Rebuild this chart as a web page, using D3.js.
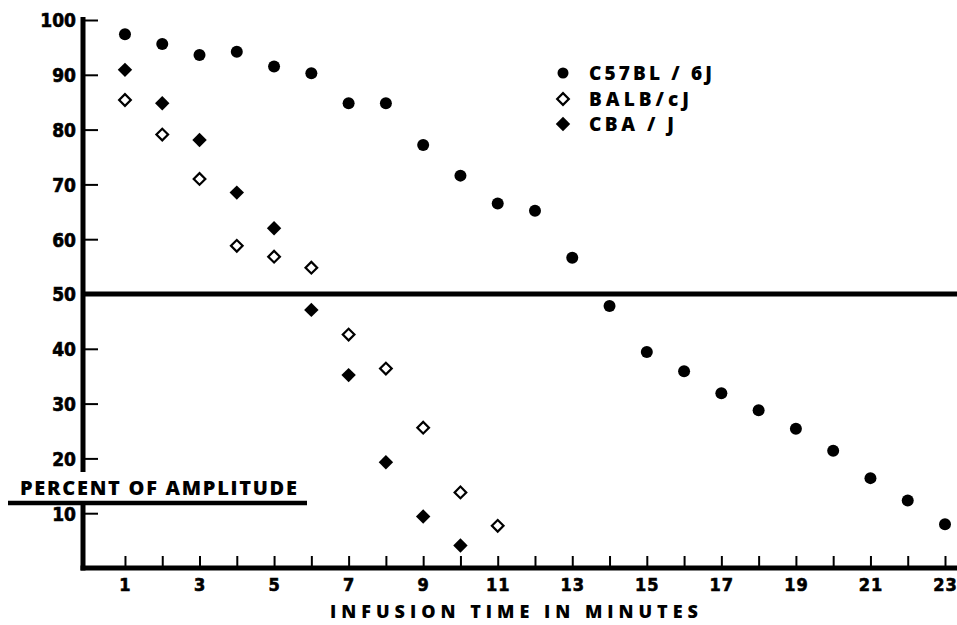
<!DOCTYPE html>
<html>
<head>
<meta charset="utf-8">
<script src="https://cdn.jsdelivr.net/npm/d3@7/dist/d3.min.js"></script>
<style>
  html, body { margin: 0; padding: 0; background: #fff; }
  svg { display: block; }
</style>
</head>
<body>
<svg id="chart" width="957" height="625"></svg>
<script>
// ---- data ----
const c57Minutes = [1, 2, 3, 4, 5, 6, 7, 8, 9, 10, 11, 12, 13, 14, 15, 16, 17, 18, 19, 20, 21, 22, 23];
const c57Values  = [97.4, 95.6, 93.6, 94.2, 91.5, 90.3, 84.8, 84.8, 77.2, 71.6, 66.5, 65.2, 56.6, 47.8, 39.4, 35.9, 31.9, 28.8, 25.4, 21.4, 16.4, 12.3, 8.0];
const balbMinutes = [1, 2, 3, 4, 5, 6, 7, 8, 9, 10, 11];
const balbValues  = [85.4, 79.1, 71.0, 58.8, 56.8, 54.8, 42.6, 36.4, 25.6, 13.8, 7.7];
const cbaMinutes = [1, 2, 3, 4, 5, 6, 7, 8, 9, 10];
const cbaValues  = [90.9, 84.8, 78.1, 68.5, 62.0, 47.1, 35.2, 19.3, 9.4, 4.1];
const seriesNames = ["C57BL / 6J", "BALB/cJ", "CBA / J"];
const yTickValues = [10, 20, 30, 40, 50, 60, 70, 80, 90, 100];
const xTickValues = [1, 2, 3, 4, 5, 6, 7, 8, 9, 10, 11, 12, 13, 14, 15, 16, 17, 18, 19, 20, 21, 22, 23];
const xLabelledTicks = [1, 3, 5, 7, 9, 11, 13, 15, 17, 19, 21, 23];
const referenceLevel = 50;
const xTitle = "INFUSION TIME IN MINUTES";
const yTitle = "PERCENT OF AMPLITUDE";

// ---- layout ----
const svg = d3.select("#chart");
const ink = "#000";
const x = d3.scaleLinear().domain([0, 23]).range([87.7, 945]);
const y = d3.scaleLinear().domain([0, 100]).range([568, 20]);
const axisX = 83;          // pixel position of the vertical axis
const tickFont = "'DejaVu Sans Condensed', 'DejaVu Sans', sans-serif";
const capsFont = "'Open Sans', 'DejaVu Sans', sans-serif";

svg.append("rect").attr("width", 957).attr("height", 625).attr("fill", "#fff");

// y axis ticks + labels
const yAxis = d3.axisLeft(y).tickValues(yTickValues).tickSize(-15).tickSizeOuter(0).tickPadding(7).tickFormat(d3.format("d"));
const gy = svg.append("g").attr("transform", `translate(${axisX},0)`).call(yAxis);
gy.select(".domain").remove();
gy.selectAll(".tick line").attr("stroke", ink).attr("stroke-width", 2);
gy.selectAll(".tick text").attr("fill", ink).attr("font-family", tickFont).attr("font-weight", "bold")
  .attr("font-size", 19).attr("dy", "0.36em").attr("stroke", ink).attr("stroke-width", 0.6);

// x axis ticks + labels
const xAxis = d3.axisBottom(x).tickValues(xTickValues).tickSize(-12).tickSizeOuter(0).tickPadding(10)
  .tickFormat(d => xLabelledTicks.includes(d) ? String(d) : "");
const gx = svg.append("g").attr("transform", `translate(0,${y(0)})`).call(xAxis);
gx.select(".domain").remove();
gx.selectAll(".tick line").attr("stroke", ink).attr("stroke-width", 2);
gx.selectAll(".tick text").attr("fill", ink).attr("font-family", tickFont).attr("font-weight", "bold")
  .attr("font-size", 18).attr("letter-spacing", "1px").attr("stroke", ink).attr("stroke-width", 0.6);

// thick axis lines
const yTitleBaseline = 495;
const underlineY = 503;
svg.append("line").attr("x1", axisX).attr("x2", axisX).attr("y1", 17).attr("y2", 472)
  .attr("stroke", ink).attr("stroke-width", 5);
svg.append("line").attr("x1", axisX).attr("x2", axisX).attr("y1", underlineY).attr("y2", y(0) + 2.5)
  .attr("stroke", ink).attr("stroke-width", 5);
svg.append("line").attr("x1", axisX - 2.5).attr("x2", 957).attr("y1", y(0)).attr("y2", y(0))
  .attr("stroke", ink).attr("stroke-width", 5);
// 50% reference line
svg.append("line").attr("x1", axisX).attr("x2", 957).attr("y1", y(referenceLevel)).attr("y2", y(referenceLevel))
  .attr("stroke", ink).attr("stroke-width", 5);

// y title with underline
svg.append("text").attr("x", 20).attr("y", yTitleBaseline).attr("textLength", 277).attr("lengthAdjust", "spacing")
  .attr("font-family", capsFont).attr("font-weight", 800).attr("font-size", 20).attr("fill", ink).text(yTitle);
svg.append("line").attr("x1", 8).attr("x2", 307).attr("y1", underlineY).attr("y2", underlineY)
  .attr("stroke", ink).attr("stroke-width", 4.5);

// x title
svg.append("text").attr("x", 330).attr("y", 618).attr("textLength", 368).attr("lengthAdjust", "spacing")
  .attr("font-family", capsFont).attr("font-weight", 800).attr("font-size", 18).attr("fill", ink).text(xTitle);

// ---- markers ----
const filledDiamond = d3.symbol(d3.symbolSquare, 104)();
const openDiamond = d3.symbol(d3.symbolSquare, 68)();

const c57 = c57Minutes.map((m, i) => ({ m, v: c57Values[i] }));
const balb = balbMinutes.map((m, i) => ({ m, v: balbValues[i] }));
const cba = cbaMinutes.map((m, i) => ({ m, v: cbaValues[i] }));

svg.append("g").selectAll("circle").data(c57).join("circle")
  .attr("cx", d => x(d.m)).attr("cy", d => y(d.v)).attr("r", 6).attr("fill", ink);
svg.append("g").selectAll("path").data(balb).join("path")
  .attr("d", openDiamond).attr("transform", d => `translate(${x(d.m)},${y(d.v)}) rotate(45)`)
  .attr("fill", "#fff").attr("stroke", ink).attr("stroke-width", 2.2);
svg.append("g").selectAll("path").data(cba).join("path")
  .attr("d", filledDiamond).attr("transform", d => `translate(${x(d.m)},${y(d.v)}) rotate(45)`)
  .attr("fill", ink);

// ---- legend ----
const legendX = 563, legendTextX = 589;
const legendRows = [73, 99, 124];
const legendWidths = [123, 100, 85];
const lg = svg.append("g");
lg.append("circle").attr("cx", legendX).attr("cy", legendRows[0]).attr("r", 5.5).attr("fill", ink);
lg.append("path").attr("d", openDiamond).attr("transform", `translate(${legendX},${legendRows[1]}) rotate(45)`)
  .attr("fill", "#fff").attr("stroke", ink).attr("stroke-width", 2.2);
lg.append("path").attr("d", filledDiamond).attr("transform", `translate(${legendX},${legendRows[2]}) rotate(45)`)
  .attr("fill", ink);
seriesNames.forEach((name, i) => {
  lg.append("text").attr("x", legendTextX).attr("y", legendRows[i] + 7)
    .attr("textLength", legendWidths[i]).attr("lengthAdjust", "spacing")
    .attr("font-family", capsFont).attr("font-weight", 800).attr("font-size", 19).attr("fill", ink)
    .text(name);
});
</script>
</body>
</html>
